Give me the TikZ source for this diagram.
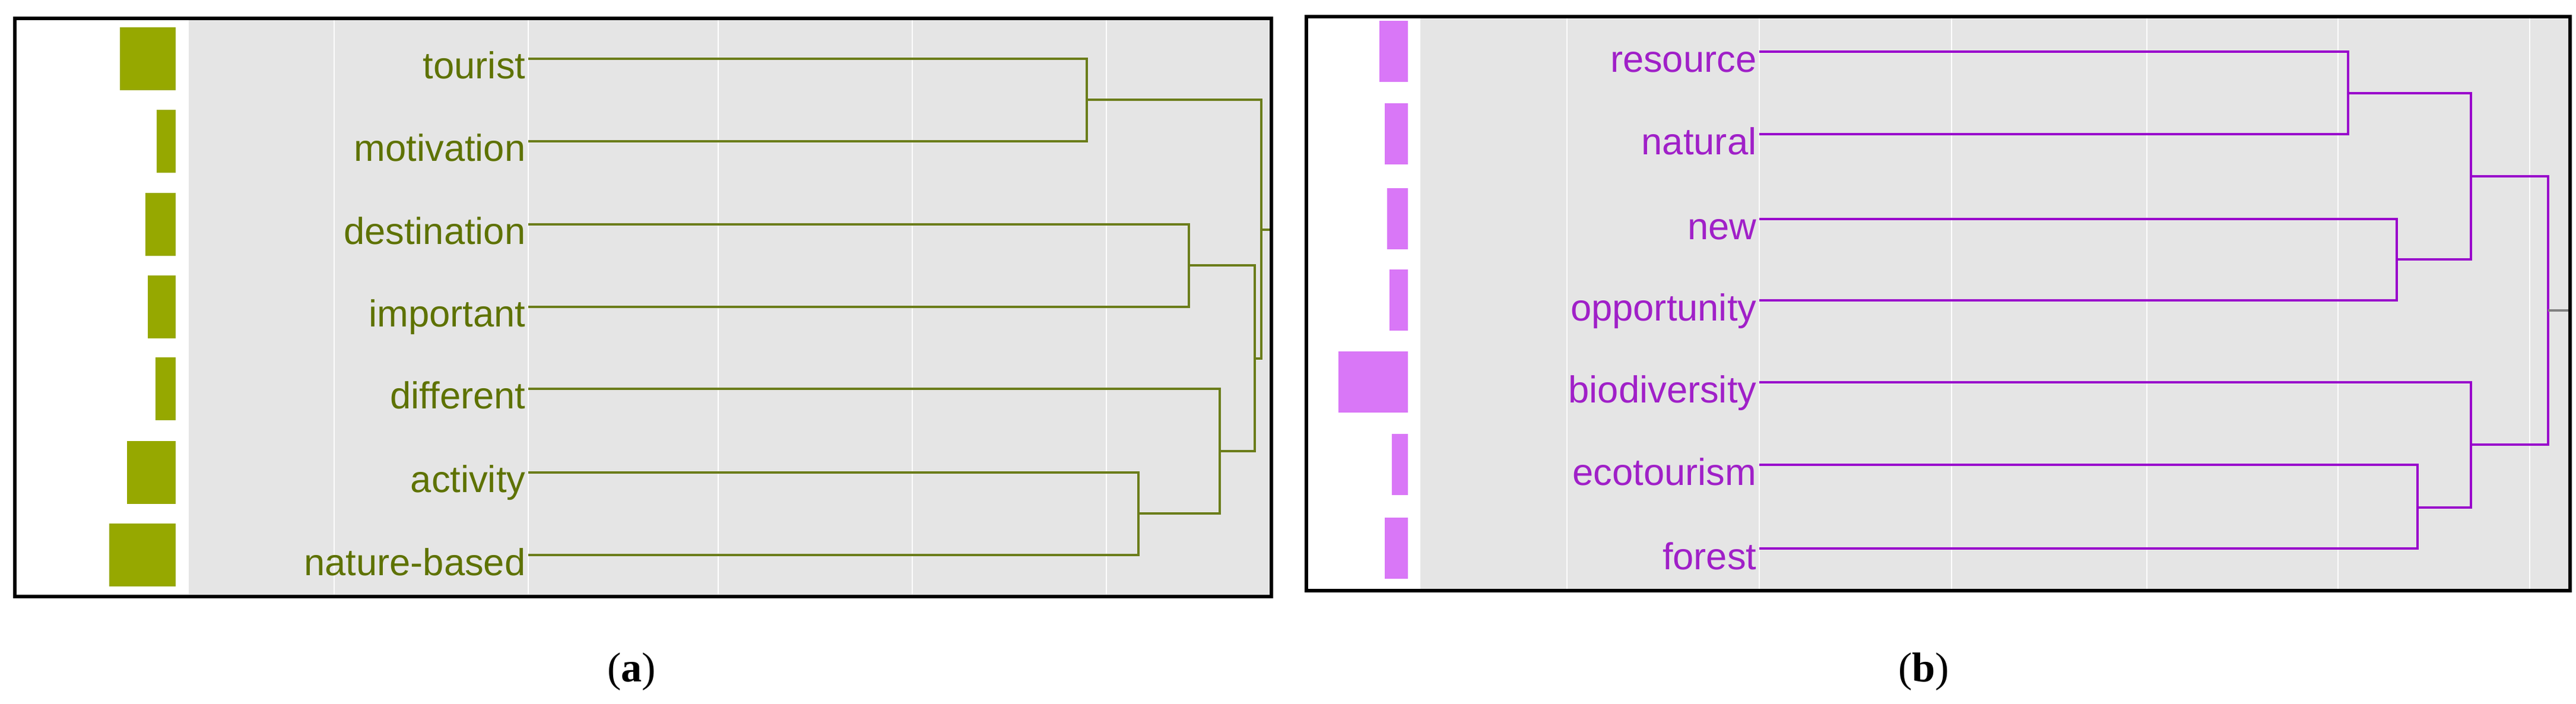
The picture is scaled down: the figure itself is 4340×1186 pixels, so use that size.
\documentclass[tikz,border=0pt]{standalone}
\usepackage{fontspec}
\setmainfont{Liberation Sans}
\newfontfamily\capfont{Liberation Serif}
\definecolor{gridbg}{HTML}{E5E5E5}
\definecolor{olLine}{HTML}{6B7D1A}
\definecolor{olText}{HTML}{5E7200}
\definecolor{olBar}{HTML}{96A800}
\definecolor{puLine}{HTML}{9900CC}
\definecolor{puText}{HTML}{A020C8}
\definecolor{puBar}{HTML}{D977F7}
\begin{document}
\begin{tikzpicture}[x=0.01cm,y=-0.01cm,
  lbl/.style={anchor=base east,inner sep=0pt,font=\fontsize{18}{20}\selectfont},
  frame/.style={draw=black,line width=1.5pt,fill=none},
  grid/.style={draw=white,line width=0.7pt},
  den/.style={line width=1.3pt},
  captxt/.style={font=\capfont\fontsize{20}{24}\selectfont,anchor=center}]
\useasboundingbox (0,0) rectangle (4340,1186);
% ---------- panel a ----------
\fill[gridbg] (318,31) rectangle (2142,1005);
\foreach \x in {563,890,1210,1537,1864} \draw[grid] (\x,31) -- (\x,1005);
\foreach \l/\y/\n in {202/99/a1,264/238/a2,245/378/a3,249/517/a4,262/655/a5,214/796/a6,184/935/a7}
  \fill[olBar] (\l,\y-53) rectangle (296,\y+53);
\foreach \t/\y/\n in {tourist/99/a1,motivation/238/a2,destination/378/a3,important/517/a4,different/655/a5,activity/796/a6,nature-based/935/a7}{
  \node[lbl,text=olText] (\n) at (886,\y+34) {\t};
  \coordinate (\n s) at (890,\y);}
\begin{scope}[den,draw=olLine]
\draw (a1s) -| (1831,168) coordinate (j12) |- (a2s);
\draw (a3s) -| (2003,447) coordinate (j34) |- (a4s);
\draw (a6s) -| (1918,865) coordinate (j67) |- (a7s);
\draw (a5s) -| (2055,760) coordinate (j567) |- (j67);
\draw (j34) -| (2114,604) coordinate (j3to7) |- (j567);
\draw (j12) -| (2125,387) coordinate (jtopa) |- (j3to7);
\coordinate (ea) at (2142,387);
\draw (jtopa) -- (ea);
\end{scope}
\draw[frame] (25,31) rectangle (2142,1005);
\node[captxt] (capa) at (1064,1132) {(\textbf{a})};
% ---------- panel b ----------
\fill[gridbg] (2393,28) rectangle (4330,995);
\foreach \x in {2640,2964,3288,3617,3939,4262} \draw[grid] (\x,28) -- (\x,995);
\foreach \l/\y in {2324/87,2333/226,2337/369,2341/506,2255/644,2345/783,2333/924}
  \fill[puBar] (\l,\y-52) rectangle (2372,\y+51);
\foreach \t/\y/\n in {resource/87/b1,natural/226/b2,new/369/b3,opportunity/506/b4,biodiversity/644/b5,ecotourism/783/b6,forest/924/b7}{
  \node[lbl,text=puText] (\n) at (2960,\y+35) {\t};
  \coordinate (\n s) at (2964,\y);}
\begin{scope}[den,draw=puLine]
\draw (b1s) -| (3956,157) coordinate (k12) |- (b2s);
\draw (b3s) -| (4038,437) coordinate (k34) |- (b4s);
\draw (k12) -| (4163,297) coordinate (k1to4) |- (k34);
\draw (b6s) -| (4073,855) coordinate (k67) |- (b7s);
\draw (b5s) -| (4163,749) coordinate (k567) |- (k67);
\draw (k1to4) -| (4293,523) coordinate (ktopb) |- (k567);
\end{scope}
\coordinate (eb) at (4330,523);
\draw[line width=0.9pt,draw=gray] (ktopb) -- (eb);
\draw[frame] (2201,28) rectangle (4330,995);
\node[captxt] (capb) at (3241,1132) {(\textbf{b})};
\end{tikzpicture}
\end{document}
